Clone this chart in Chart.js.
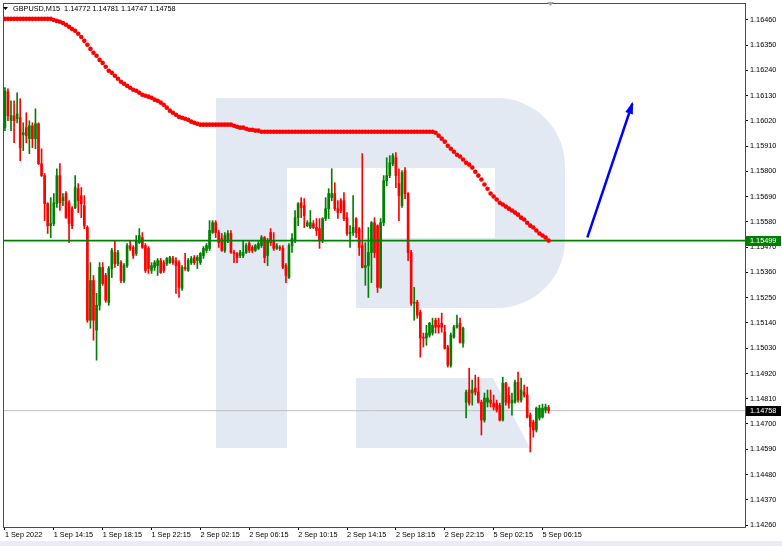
<!DOCTYPE html>
<html>
<head>
<meta charset="utf-8">
<script src="https://cdn.jsdelivr.net/npm/chart.js@4.4.1/dist/chart.umd.min.js"></script>
<style>
  html, body { margin: 0; padding: 0; background: #fff; }
  canvas { display: block; }
</style>
</head>
<body>
<canvas id="priceChart" width="782" height="546"></canvas>
<script>
// GBPUSD M15 chart data
const symbol = "GBPUSD,M15";
const timeLabels = ["1 Sep 2022", "1 Sep 14:15", "1 Sep 18:15", "1 Sep 22:15", "2 Sep 02:15", "2 Sep 06:15",
  "2 Sep 10:15", "2 Sep 14:15", "2 Sep 18:15", "2 Sep 22:15", "5 Sep 02:15", "5 Sep 06:15"];
const barsPerLabel = 16;

const priceTicks = [1.1426, 1.1437, 1.1448, 1.1459, 1.1470, 1.1481, 1.1492, 1.1503, 1.1514, 1.1525, 1.1536,
  1.1547, 1.1558, 1.1569, 1.1580, 1.1591, 1.1602, 1.1613, 1.1624, 1.1635, 1.1646];

const opens = [
  1.15991,1.16147,1.16021,1.16043,1.16030,1.16034,1.15960,1.15991,1.15943,1.15999,
  1.15943,1.16008,1.15834,1.15782,1.15660,1.15564,1.15573,1.15660,1.15782,1.15673,
  1.15704,1.15664,1.15638,1.15643,1.15725,1.15695,1.15651,1.15556,1.15152,1.15325,
  1.15109,1.15217,1.15382,1.15347,1.15230,1.15377,1.15447,1.15399,1.15403,1.15325,
  1.15390,1.15477,1.15469,1.15443,1.15490,1.15512,1.15477,1.15465,1.15369,1.15382,
  1.15390,1.15412,1.15403,1.15399,1.15403,1.15421,1.15412,1.15403,1.15291,1.15382,
  1.15369,1.15403,1.15425,1.15412,1.15403,1.15434,1.15456,1.15465,1.15534,1.15577,
  1.15534,1.15508,1.15456,1.15499,1.15530,1.15447,1.15443,1.15434,1.15434,1.15447,
  1.15486,1.15469,1.15456,1.15465,1.15477,1.15512,1.15434,1.15534,1.15499,1.15465,
  1.15469,1.15465,1.15390,1.15338,1.15477,1.15499,1.15599,1.15664,1.15651,1.15564,
  1.15556,1.15573,1.15556,1.15551,1.15499,1.15595,1.15638,1.15686,1.15704,1.15638,
  1.15673,1.15673,1.15599,1.15530,1.15534,1.15595,1.15551,1.15477,1.15382,1.15390,
  1.15447,1.15577,1.15564,1.15295,1.15577,1.15760,1.15782,1.15834,1.15860,1.15747,
  1.15651,1.15804,1.15704,1.15447,1.15226,1.15230,1.15187,1.15078,1.15074,1.15087,
  1.15096,1.15152,1.15130,1.15139,1.15100,1.15035,1.14956,1.15078,1.15122,1.15139,
  1.15052,1.14795,1.14848,1.14835,1.14856,1.14839,1.14795,1.14717,1.14795,1.14804,
  1.14791,1.14791,1.14782,1.14717,1.14878,1.14826,1.14791,1.14795,1.14882,1.14804,
  1.14839,1.14826,1.14739,1.14708,1.14674,1.14726,1.14730,1.14761,1.14772
];
const highs = [
  1.16165,1.16160,1.16108,1.16108,1.16143,1.16117,1.16012,1.16056,1.16021,1.16012,
  1.16073,1.16012,1.15899,1.15791,1.15664,1.15686,1.15704,1.15812,1.15834,1.15704,
  1.15712,1.15673,1.15647,1.15782,1.15747,1.15730,1.15695,1.15564,1.15403,1.15347,
  1.15269,1.15403,1.15403,1.15356,1.15386,1.15465,1.15499,1.15456,1.15412,1.15399,
  1.15486,1.15499,1.15477,1.15521,1.15551,1.15534,1.15486,1.15473,1.15403,1.15412,
  1.15421,1.15421,1.15412,1.15425,1.15430,1.15430,1.15425,1.15412,1.15390,1.15443,
  1.15421,1.15430,1.15434,1.15434,1.15447,1.15473,1.15486,1.15586,1.15586,1.15586,
  1.15543,1.15530,1.15534,1.15543,1.15543,1.15456,1.15447,1.15456,1.15499,1.15486,
  1.15495,1.15477,1.15482,1.15495,1.15521,1.15517,1.15508,1.15551,1.15534,1.15486,
  1.15477,1.15477,1.15399,1.15486,1.15530,1.15630,1.15664,1.15686,1.15682,1.15586,
  1.15630,1.15586,1.15595,1.15595,1.15599,1.15686,1.15725,1.15812,1.15751,1.15673,
  1.15682,1.15708,1.15621,1.15564,1.15695,1.15599,1.15556,1.15878,1.15490,1.15556,
  1.15582,1.15599,1.15568,1.15595,1.15782,1.15860,1.15869,1.15878,1.15882,1.15812,
  1.15804,1.15817,1.15708,1.15456,1.15295,1.15239,1.15196,1.15096,1.15130,1.15143,
  1.15161,1.15161,1.15161,1.15183,1.15130,1.15043,1.15096,1.15130,1.15174,1.15161,
  1.15122,1.14848,1.14943,1.14891,1.14913,1.14904,1.14804,1.14835,1.14848,1.14848,
  1.14826,1.14804,1.14791,1.14904,1.14882,1.14861,1.14835,1.14891,1.14926,1.14900,
  1.14869,1.14861,1.14748,1.14717,1.14774,1.14782,1.14787,1.14787,1.14781
];
const lows = [
  1.15978,1.16021,1.15978,1.15925,1.16012,1.15847,1.15891,1.15925,1.15878,1.15904,
  1.15899,1.15830,1.15778,1.15586,1.15530,1.15512,1.15564,1.15643,1.15630,1.15651,
  1.15595,1.15490,1.15551,1.15638,1.15621,1.15599,1.15551,1.15143,1.15117,1.15065,
  1.14978,1.15196,1.15304,1.15230,1.15217,1.15338,1.15382,1.15390,1.15316,1.15316,
  1.15382,1.15456,1.15421,1.15434,1.15486,1.15465,1.15360,1.15356,1.15356,1.15369,
  1.15347,1.15356,1.15360,1.15390,1.15399,1.15395,1.15269,1.15251,1.15282,1.15369,
  1.15365,1.15395,1.15395,1.15377,1.15395,1.15421,1.15447,1.15456,1.15530,1.15512,
  1.15469,1.15452,1.15447,1.15490,1.15443,1.15403,1.15403,1.15425,1.15425,1.15443,
  1.15447,1.15447,1.15452,1.15460,1.15469,1.15403,1.15390,1.15477,1.15456,1.15460,
  1.15456,1.15377,1.15316,1.15334,1.15447,1.15490,1.15564,1.15599,1.15556,1.15560,
  1.15551,1.15551,1.15521,1.15465,1.15490,1.15586,1.15595,1.15673,1.15630,1.15595,
  1.15621,1.15586,1.15521,1.15469,1.15521,1.15512,1.15434,1.15380,1.15304,1.15251,
  1.15316,1.15425,1.15273,1.15291,1.15564,1.15738,1.15773,1.15825,1.15730,1.15586,
  1.15643,1.15682,1.15412,1.15217,1.15152,1.15161,1.14991,1.15035,1.15043,1.15078,
  1.15087,1.15096,1.15096,1.15100,1.15026,1.14948,1.14948,1.15074,1.15117,1.15052,
  1.15035,1.14726,1.14782,1.14782,1.14826,1.14791,1.14652,1.14708,1.14774,1.14774,
  1.14761,1.14752,1.14713,1.14713,1.14782,1.14769,1.14739,1.14791,1.14795,1.14795,
  1.14817,1.14726,1.14578,1.14643,1.14665,1.14717,1.14726,1.14748,1.14747
];
const closes = [
  1.16152,1.16043,1.16043,1.16021,1.16051,1.15904,1.15969,1.15956,1.15999,1.15943,
  1.16008,1.15834,1.15782,1.15660,1.15564,1.15573,1.15664,1.15782,1.15664,1.15686,
  1.15599,1.15573,1.15564,1.15730,1.15673,1.15660,1.15564,1.15152,1.15325,1.15152,
  1.15217,1.15382,1.15312,1.15239,1.15377,1.15456,1.15399,1.15447,1.15325,1.15390,
  1.15477,1.15465,1.15434,1.15499,1.15521,1.15469,1.15369,1.15377,1.15390,1.15403,
  1.15412,1.15360,1.15369,1.15421,1.15425,1.15403,1.15390,1.15295,1.15382,1.15377,
  1.15412,1.15421,1.15403,1.15425,1.15443,1.15465,1.15477,1.15543,1.15577,1.15534,
  1.15490,1.15456,1.15521,1.15530,1.15447,1.15443,1.15425,1.15447,1.15447,1.15477,
  1.15456,1.15456,1.15477,1.15486,1.15512,1.15425,1.15499,1.15490,1.15465,1.15477,
  1.15465,1.15382,1.15347,1.15477,1.15508,1.15599,1.15660,1.15643,1.15608,1.15577,
  1.15577,1.15556,1.15543,1.15499,1.15595,1.15638,1.15704,1.15704,1.15638,1.15621,
  1.15630,1.15595,1.15530,1.15534,1.15556,1.15534,1.15469,1.15382,1.15390,1.15447,
  1.15577,1.15447,1.15295,1.15577,1.15760,1.15782,1.15838,1.15869,1.15782,1.15695,
  1.15795,1.15704,1.15447,1.15226,1.15230,1.15174,1.15074,1.15074,1.15096,1.15139,
  1.15130,1.15122,1.15122,1.15122,1.15030,1.14956,1.15087,1.15122,1.15130,1.15056,
  1.15117,1.14839,1.14791,1.14848,1.14839,1.14795,1.14717,1.14813,1.14813,1.14791,
  1.14774,1.14761,1.14717,1.14878,1.14795,1.14791,1.14804,1.14882,1.14804,1.14848,
  1.14826,1.14730,1.14687,1.14674,1.14769,1.14769,1.14769,1.14774,1.14758
];
// red dotted moving average
const maValues = [
  1.16465,1.16465,1.16465,1.16465,1.16465,1.16465,1.16465,1.16465,1.16465,1.16465,
  1.16465,1.16465,1.16465,1.16465,1.16465,1.16465,1.16460,1.16456,1.16452,1.16447,
  1.16439,1.16430,1.16421,1.16413,1.16400,1.16386,1.16369,1.16352,1.16334,1.16317,
  1.16304,1.16286,1.16273,1.16256,1.16239,1.16230,1.16217,1.16204,1.16191,1.16182,
  1.16173,1.16165,1.16156,1.16152,1.16143,1.16134,1.16130,1.16126,1.16121,1.16113,
  1.16108,1.16100,1.16091,1.16078,1.16065,1.16056,1.16047,1.16038,1.16034,1.16030,
  1.16025,1.16017,1.16012,1.16008,1.16004,1.16004,1.16004,1.16004,1.16004,1.16004,
  1.16004,1.16004,1.16004,1.16004,1.16004,1.15999,1.15995,1.15991,1.15991,1.15986,
  1.15982,1.15982,1.15978,1.15978,1.15973,1.15973,1.15973,1.15973,1.15973,1.15973,
  1.15973,1.15973,1.15973,1.15973,1.15973,1.15973,1.15973,1.15973,1.15973,1.15973,
  1.15973,1.15973,1.15973,1.15973,1.15973,1.15973,1.15973,1.15973,1.15973,1.15973,
  1.15973,1.15973,1.15973,1.15973,1.15973,1.15973,1.15973,1.15973,1.15973,1.15973,
  1.15973,1.15973,1.15973,1.15973,1.15973,1.15973,1.15973,1.15973,1.15973,1.15973,
  1.15973,1.15973,1.15973,1.15973,1.15973,1.15973,1.15973,1.15973,1.15973,1.15973,
  1.15973,1.15969,1.15956,1.15943,1.15930,1.15912,1.15899,1.15886,1.15873,1.15865,
  1.15852,1.15838,1.15830,1.15817,1.15799,1.15782,1.15765,1.15743,1.15725,1.15704,
  1.15691,1.15678,1.15664,1.15656,1.15647,1.15638,1.15630,1.15621,1.15612,1.15599,
  1.15591,1.15577,1.15564,1.15556,1.15543,1.15530,1.15521,1.15512,1.15499
];

const levelPrice = 1.15499;   // green horizontal level
const bidPrice = 1.14758;     // current price line
const arrowX = [190.7, 205.4];
const arrowY = [1.15513, 1.16095];

const xMin = -0.3, xMax = 242.3;
const yMin = 1.142513, yMax = 1.165296;

const FONT = { family: "'Liberation Sans', Arial, sans-serif", size: 7.3 };
const BULL = "#008000";
const BEAR = "#ff0000";

const barColors = closes.map((c, i) => (c >= opens[i] ? BULL : BEAR));

// watermark logo, header text, frame and price tags
const overlayPlugin = {
  id: "overlay",
  beforeDatasetsDraw(chart) {
    const { ctx, chartArea: a } = chart;
    ctx.save();
    ctx.beginPath();
    ctx.rect(a.left, a.top, a.right - a.left, a.bottom - a.top);
    ctx.clip();
    ctx.fillStyle = "#e3e9f2";
    ctx.beginPath();
    ctx.moveTo(216, 98);
    ctx.lineTo(497, 98);
    ctx.arcTo(565, 98, 565, 166, 68);
    ctx.lineTo(565, 240);
    ctx.arcTo(565, 308, 497, 308, 68);
    ctx.lineTo(356, 308);
    ctx.lineTo(356, 238);
    ctx.lineTo(495, 238);
    ctx.lineTo(495, 168);
    ctx.lineTo(287, 168);
    ctx.lineTo(287, 448);
    ctx.lineTo(216, 448);
    ctx.closePath();
    ctx.fill();
    ctx.beginPath();
    ctx.moveTo(356, 378);
    ctx.lineTo(493, 378);
    ctx.lineTo(530, 448);
    ctx.lineTo(356, 448);
    ctx.closePath();
    ctx.fill();
    ctx.restore();
  },
  afterDraw(chart) {
    const { ctx, chartArea: a, scales } = chart;
    const x = scales.x, y = scales.y;
    ctx.save();

    // bottom strip
    ctx.fillStyle = "#e9edf3";
    ctx.fillRect(0, 541, 782, 5);

    // frame
    ctx.strokeStyle = "#4d4d4d";
    ctx.lineWidth = 1;
    ctx.strokeRect(a.left - 0.5, a.top - 0.5, a.right - a.left + 1, a.bottom - a.top + 1);

    // arrow head
    const x1 = x.getPixelForValue(arrowX[0]), y1 = y.getPixelForValue(arrowY[0]);
    const x2 = x.getPixelForValue(arrowX[1]), y2 = y.getPixelForValue(arrowY[1]);
    const ang = Math.atan2(y2 - y1, x2 - x1);
    ctx.fillStyle = "#0000ff";
    ctx.beginPath();
    ctx.moveTo(x2 + Math.cos(ang) * 2, y2 + Math.sin(ang) * 2);
    ctx.lineTo(x2 - Math.cos(ang) * 10 - Math.sin(ang) * 4, y2 - Math.sin(ang) * 10 + Math.cos(ang) * 4);
    ctx.lineTo(x2 - Math.cos(ang) * 10 + Math.sin(ang) * 4, y2 - Math.sin(ang) * 10 - Math.cos(ang) * 4);
    ctx.closePath();
    ctx.fill();

    // header
    ctx.fillStyle = "#000";
    ctx.beginPath();
    ctx.moveTo(3, 7);
    ctx.lineTo(8, 7);
    ctx.lineTo(5.5, 10);
    ctx.closePath();
    ctx.fill();
    const last = closes.length - 1;
    ctx.font = `${FONT.size}px ${FONT.family}`;
    ctx.textBaseline = "middle";
    ctx.textAlign = "left";
    ctx.fillText(`${symbol}  ${opens[last].toFixed(5)} ${highs[last].toFixed(5)} ${lows[last].toFixed(5)} ${closes[last].toFixed(5)}`, 13, 9);

    // chart shift marker
    ctx.fillStyle = "#a8a8a8";
    ctx.beginPath();
    ctx.moveTo(547, 2);
    ctx.lineTo(554, 2);
    ctx.lineTo(550.5, 6);
    ctx.closePath();
    ctx.fill();

    // price tags on the axis
    const tag = (price, bg) => {
      const py = y.getPixelForValue(price);
      ctx.fillStyle = bg;
      ctx.fillRect(a.right + 1, Math.round(py) - 5, 35, 10);
      ctx.fillStyle = "#fff";
      ctx.fillText(price.toFixed(5), a.right + 5, Math.round(py));
    };
    tag(levelPrice, "#008000");
    tag(bidPrice, "#000000");
    ctx.restore();
  }
};

const ctx = document.getElementById("priceChart");

new Chart(ctx, {
  type: "bar",
  data: {
    datasets: [
      {
        type: "line",
        label: "Arrow",
        data: arrowX.map((v, i) => ({ x: v, y: arrowY[i] })),
        borderColor: "#0000ff",
        borderWidth: 2.5,
        pointRadius: 0,
        order: 0,
      },
      {
        type: "line",
        label: "MA",
        data: maValues.map((v, i) => ({ x: i, y: v })),
        showLine: false,
        pointRadius: 2.3,
        pointBorderWidth: 0,
        pointBackgroundColor: BEAR,
        order: 1,
      },
      {
        type: "line",
        label: "Level",
        data: [{ x: xMin, y: levelPrice }, { x: xMax, y: levelPrice }],
        borderColor: "#008000",
        borderWidth: 1.6,
        pointRadius: 0,
        order: 2,
      },
      {
        label: "Body",
        data: opens.map((o, i) => ({ x: i, y: [o, closes[i]] })),
        backgroundColor: barColors,
        barThickness: 2,
        minBarLength: 1,
        grouped: false,
        order: 3,
      },
      {
        label: "Wick",
        data: lows.map((l, i) => ({ x: i, y: [l, highs[i]] })),
        backgroundColor: barColors,
        barThickness: 1,
        grouped: false,
        order: 4,
      },
      {
        type: "line",
        label: "Bid",
        data: [{ x: xMin, y: bidPrice }, { x: xMax, y: bidPrice }],
        borderColor: "#c0c0c0",
        borderWidth: 1,
        pointRadius: 0,
        order: 5,
      },
    ],
  },
  options: {
    responsive: false,
    animation: false,
    events: [],
    layout: { padding: { left: 2, top: 3, right: 0, bottom: 0 } },
    plugins: {
      legend: { display: false },
      tooltip: { enabled: false },
    },
    scales: {
      x: {
        type: "linear",
        min: xMin,
        max: xMax,
        offset: false,
        grid: { offset: false, drawOnChartArea: false, tickLength: 3, color: "#000" },
        border: { display: false },
        afterBuildTicks: (s) => {
          s.ticks = timeLabels.map((_, k) => ({ value: k * barsPerLabel }));
        },
        ticks: {
          autoSkip: false,
          maxRotation: 0,
          align: "start",
          padding: 1,
          color: "#000",
          font: FONT,
          callback: (v) => timeLabels[Math.round(v / barsPerLabel)] || "",
        },
        afterFit: (s) => {
          s.height = 19;
          s.paddingLeft = 0;
          s.paddingRight = 0;
        },
      },
      y: {
        type: "linear",
        position: "right",
        min: yMin,
        max: yMax,
        grid: { drawOnChartArea: false, tickLength: 3, color: "#000" },
        border: { display: false },
        afterBuildTicks: (s) => {
          s.ticks = priceTicks.map((v) => ({ value: v }));
        },
        ticks: {
          autoSkip: false,
          padding: 2,
          color: "#000",
          font: FONT,
          callback: (v) => Number(v).toFixed(5),
        },
        afterFit: (s) => {
          s.width = 37;
          s.paddingTop = 0;
          s.paddingBottom = 0;
        },
      },
    },
  },
  plugins: [overlayPlugin],
});
</script>
</body>
</html>
